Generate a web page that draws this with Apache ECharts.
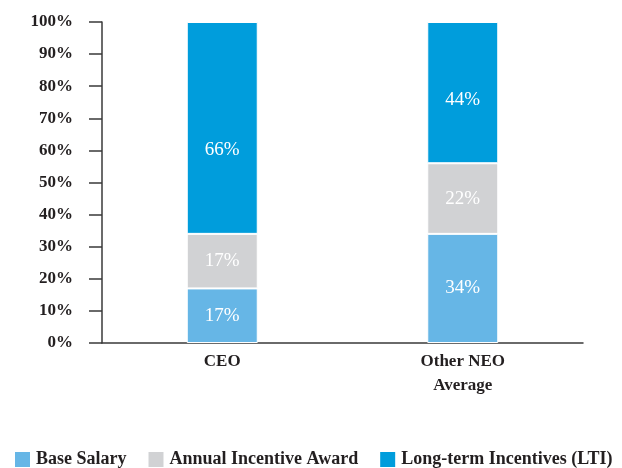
<!DOCTYPE html>
<html>
<head>
<meta charset="utf-8">
<script src="https://cdn.jsdelivr.net/npm/echarts@6/dist/echarts.min.js"></script>
<style>
  html, body { margin: 0; padding: 0; background: #fff; }
  #chart { width: 622px; height: 468px; }
</style>
</head>
<body>
<div id="chart"></div>
<script>
// categories and values (percent of total pay)
var categories = ['CEO', 'Other NEO\nAverage'];
var baseSalary = [17, 34];
var annualIncentive = [17, 22];
var longTermIncentives = [66, 44];
var seriesNames = ['Base Salary', 'Annual Incentive Award', 'Long-term Incentives (LTI)'];
var seriesColors = ['#66b6e6', '#d1d2d4', '#009ddc'];

var fontFam = '"Liberation Serif", "DejaVu Serif", serif';
var chart = echarts.init(document.getElementById('chart'));

// label vertical nudges (the LTI labels in the original sit below centre)
var ltiLabelOffsets = [22, 7];

function mkSeries(name, data, color, offsets) {
    return {
        name: name,
        type: 'bar',
        stack: 'pay',
        barWidth: 71,
        data: data.map(function (v, i) {
            var item = { value: v };
            if (offsets) item.label = { offset: [0, offsets[i]] };
            return item;
        }),
        itemStyle: { color: color, borderColor: '#fff', borderWidth: 1 },
        label: {
            show: true,
            position: 'inside',
            formatter: '{c}%',
            color: '#fff',
            fontFamily: fontFam,
            fontSize: 19
        }
    };
}

var option = {
    animation: false,
    textStyle: { fontFamily: fontFam },
    grid: { left: 102, right: 39, top: 22, bottom: 125, containLabel: false },
    legend: {
        top: 445,
        left: 8,
        itemWidth: 17,
        itemHeight: 17,
        itemGap: 20,
        icon: 'rect',
        data: seriesNames,
        textStyle: { fontFamily: fontFam, fontWeight: 'bold', fontSize: 18, color: '#231f20' }
    },
    xAxis: {
        type: 'category',
        data: categories,
        axisLine: { lineStyle: { color: '#3a3a3a', width: 1.5 } },
        axisTick: { show: false },
        axisLabel: {
            color: '#231f20',
            fontFamily: fontFam,
            fontWeight: 'bold',
            fontSize: 17,
            lineHeight: 24,
            margin: 7
        }
    },
    yAxis: {
        type: 'value',
        min: 0,
        max: 100,
        interval: 10,
        splitLine: { show: false },
        axisLine: { show: true, lineStyle: { color: '#3a3a3a', width: 1.5 } },
        axisTick: { show: true, inside: false, length: 13, lineStyle: { color: '#3a3a3a', width: 1.5 } },
        axisLabel: {
            formatter: '{value}%',
            color: '#231f20',
            fontFamily: fontFam,
            fontWeight: 'bold',
            fontSize: 17,
            margin: 29
        }
    },
    series: [
        mkSeries(seriesNames[0], baseSalary, seriesColors[0]),
        mkSeries(seriesNames[1], annualIncentive, seriesColors[1]),
        mkSeries(seriesNames[2], longTermIncentives, seriesColors[2], ltiLabelOffsets)
    ]
};

chart.setOption(option, true);
</script>
</body>
</html>
